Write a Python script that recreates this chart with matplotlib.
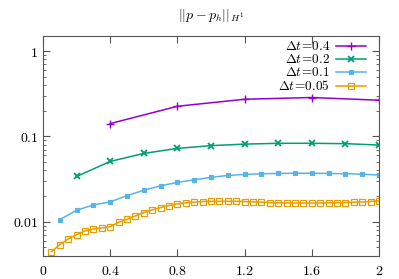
import numpy as np
import matplotlib
matplotlib.use('Agg')
import matplotlib.pyplot as plt
from matplotlib.ticker import FuncFormatter, LogLocator, FixedLocator

plt.rcParams['mathtext.fontset'] = 'cm'
plt.rcParams['font.family'] = 'serif'
plt.rcParams['font.serif'] = ['DejaVu Serif']

# error values
x_04 = [0.4, 0.8, 1.2, 1.6, 2.0]
y_04 = [0.141, 0.225, 0.272, 0.285, 0.265]

x_02 = [0.2, 0.4, 0.6, 0.8, 1.0, 1.2, 1.4, 1.6, 1.8, 2.0]
y_02 = [0.0338, 0.0508, 0.063, 0.0722, 0.0777, 0.081, 0.0828, 0.0828, 0.082, 0.079]

x_01 = [0.1, 0.2, 0.3, 0.4, 0.5, 0.6, 0.7, 0.8, 0.9, 1.0,
        1.1, 1.2, 1.3, 1.4, 1.5, 1.6, 1.7, 1.8, 1.9, 2.0]
y_01 = [0.01056, 0.01358, 0.0157, 0.0170, 0.0202, 0.0233, 0.0263, 0.0288, 0.0309, 0.0330,
        0.0348, 0.0357, 0.0364, 0.0367, 0.0369, 0.0369, 0.0367, 0.0364, 0.0360, 0.0351]

x_005 = [0.05, 0.1, 0.15, 0.2, 0.25, 0.3, 0.35, 0.4, 0.45, 0.5,
         0.55, 0.6, 0.65, 0.7, 0.75, 0.8, 0.85, 0.9, 0.95, 1.0,
         1.05, 1.1, 1.15, 1.2, 1.25, 1.3, 1.35, 1.4, 1.45, 1.5,
         1.55, 1.6, 1.65, 1.7, 1.75, 1.8, 1.85, 1.9, 1.95, 2.0]
y_005 = [0.00444, 0.00537, 0.00626, 0.00703, 0.00777, 0.0082, 0.00843, 0.00873, 0.00982, 0.01064,
         0.01166, 0.01276, 0.01373, 0.01462, 0.0154, 0.01614, 0.0166, 0.0169, 0.0172, 0.0173,
         0.0173, 0.0173, 0.0173, 0.0172, 0.0170, 0.0169, 0.0167, 0.0166, 0.0165, 0.0165,
         0.0165, 0.0165, 0.0165, 0.0166, 0.0166, 0.0167, 0.0169, 0.0170, 0.0172, 0.0175]

labels = [r'$\Delta t\!=\!0.4$', r'$\Delta t\!=\!0.2$', r'$\Delta t\!=\!0.1$', r'$\Delta t\!=\!0.05$']
x_ticks = [0, 0.4, 0.8, 1.2, 1.6, 2]
y_ticks = [0.01, 0.1, 1]

fig = plt.figure(figsize=(3.99, 2.79), dpi=100)
ax = fig.add_axes([0.1078, 0.0824, 0.8422, 0.7886])

l1, = ax.plot(x_04, y_04, color='#9400d3', lw=1.1, marker='+', ms=6, mew=1.0)
l2, = ax.plot(x_02, y_02, color='#009e73', lw=1.1, marker='x', ms=5, mew=1.3)
l3, = ax.plot(x_01, y_01, color='#56b4e9', lw=1.1, marker='s', ms=3, mew=0.8)
l4, = ax.plot(x_005, y_005, color='#e69f00', lw=1.1, marker='s', ms=4, mew=0.9,
              fillstyle='none')

ax.set_yscale('log')
ax.set_xlim(0, 2)
ax.set_ylim(0.00395, 1.5)
ax.xaxis.set_major_locator(FixedLocator(x_ticks))
ax.yaxis.set_major_locator(FixedLocator(y_ticks))
ax.yaxis.set_minor_locator(LogLocator(base=10, subs=np.arange(2, 10)))
ax.yaxis.set_minor_formatter(FuncFormatter(lambda v, p: ''))
ax.xaxis.set_major_formatter(FuncFormatter(lambda v, p: r'$%g$' % v))
ax.yaxis.set_major_formatter(FuncFormatter(lambda v, p: r'$%g$' % v))
ax.tick_params(which='both', direction='in', top=True, right=True,
               labelsize=10, color='#555555')
ax.tick_params(which='major', length=5)
ax.tick_params(which='minor', length=2.5)
ax.tick_params(axis='x', pad=6)
for s in ax.spines.values():
    s.set_color('#555555')
    s.set_linewidth(0.8)

ax.set_title(r'$||p-p_h||_{H^1}$', fontsize=10, pad=12)

# legend holds only the line samples; labels are put right-aligned to their left
leg = ax.legend([l1, l2, l3, l4], [''] * 4, loc='upper right', frameon=False,
                bbox_to_anchor=(0.961, 0.972), borderpad=0, borderaxespad=0,
                handlelength=2.7, handletextpad=0, labelspacing=0.28, fontsize=8)
renderer = fig.canvas.get_renderer()
fig.canvas.draw()
for h, lab in zip(leg.legend_handles, labels):
    xs, ys = h.get_xdata(), h.get_ydata()
    px, py = h.get_transform().transform((xs[0], ys[0]))
    fig.text((px - 6) / fig.bbox.width, py / fig.bbox.height, lab,
             ha='right', va='center', fontsize=9.5)

fig.savefig('out.png', dpi=100)
